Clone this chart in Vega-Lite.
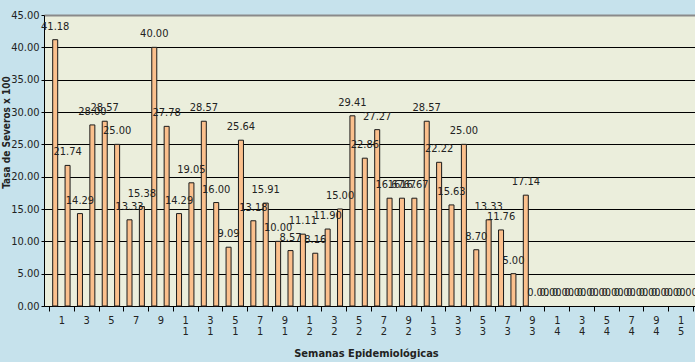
{
  "$schema": "https://vega.github.io/schema/vega-lite/v6.json",
  "width": 654,
  "height": 291,
  "autosize": {"type": "none"},
  "padding": {"left": 44, "top": 15, "right": 0, "bottom": 56},
  "background": "#C6E2EC",
  "config": {
    "view": {"fill": "#EBEEDC", "stroke": null},
    "font": "DejaVu Sans Condensed, Liberation Sans Narrow, Liberation Sans, sans-serif"
  },
  "data": {
    "values": [
      {"semana": 1, "tasa": 41.18}, {"semana": 2, "tasa": 21.74}, {"semana": 3, "tasa": 14.29},
      {"semana": 4, "tasa": 28.00}, {"semana": 5, "tasa": 28.57}, {"semana": 6, "tasa": 25.00},
      {"semana": 7, "tasa": 13.33}, {"semana": 8, "tasa": 15.38}, {"semana": 9, "tasa": 40.00},
      {"semana": 10, "tasa": 27.78}, {"semana": 11, "tasa": 14.29}, {"semana": 12, "tasa": 19.05},
      {"semana": 13, "tasa": 28.57}, {"semana": 14, "tasa": 16.00}, {"semana": 15, "tasa": 9.09},
      {"semana": 16, "tasa": 25.64}, {"semana": 17, "tasa": 13.18}, {"semana": 18, "tasa": 15.91},
      {"semana": 19, "tasa": 10.00}, {"semana": 20, "tasa": 8.57}, {"semana": 21, "tasa": 11.11},
      {"semana": 22, "tasa": 8.16}, {"semana": 23, "tasa": 11.90}, {"semana": 24, "tasa": 15.00},
      {"semana": 25, "tasa": 29.41}, {"semana": 26, "tasa": 22.86}, {"semana": 27, "tasa": 27.27},
      {"semana": 28, "tasa": 16.67}, {"semana": 29, "tasa": 16.67}, {"semana": 30, "tasa": 16.67},
      {"semana": 31, "tasa": 28.57}, {"semana": 32, "tasa": 22.22}, {"semana": 33, "tasa": 15.63},
      {"semana": 34, "tasa": 25.00}, {"semana": 35, "tasa": 8.70}, {"semana": 36, "tasa": 13.33},
      {"semana": 37, "tasa": 11.76}, {"semana": 38, "tasa": 5.00}, {"semana": 39, "tasa": 17.14},
      {"semana": 40, "tasa": 0}, {"semana": 41, "tasa": 0}, {"semana": 42, "tasa": 0},
      {"semana": 43, "tasa": 0}, {"semana": 44, "tasa": 0}, {"semana": 45, "tasa": 0},
      {"semana": 46, "tasa": 0}, {"semana": 47, "tasa": 0}, {"semana": 48, "tasa": 0},
      {"semana": 49, "tasa": 0}, {"semana": 50, "tasa": 0}, {"semana": 51, "tasa": 0},
      {"semana": 52, "tasa": 0}
    ]
  },
  "encoding": {
    "x": {
      "field": "semana",
      "type": "quantitative",
      "scale": {"domain": [0.5, 52.5], "nice": false, "zero": false},
      "axis": {
        "title": "Semanas Epidemiológicas",
        "titleFontSize": 11,
        "titleFontWeight": "bold",
        "titleColor": "#222222",
        "titleX": 322,
        "titleY": 41,
        "titleBaseline": "top",
        "values": [0.5, 1.5, 2.5, 3.5, 4.5, 5.5, 6.5, 7.5, 8.5, 9.5, 10.5, 11.5, 12.5, 13.5, 14.5, 15.5, 16.5, 17.5, 18.5, 19.5, 20.5, 21.5, 22.5, 23.5, 24.5, 25.5, 26.5, 27.5, 28.5, 29.5, 30.5, 31.5, 32.5, 33.5, 34.5, 35.5, 36.5, 37.5, 38.5, 39.5, 40.5, 41.5, 42.5, 43.5, 44.5, 45.5, 46.5, 47.5, 48.5, 49.5, 50.5, 51.5, 52.5],
        "labelExpr": "(datum.value + 0.5) % 2 == 0 ? ((datum.value - 0.5) < 10 ? '' + (datum.value - 0.5) : ['' + ((datum.value - 0.5) % 10), '' + floor((datum.value - 0.5) / 10)]) : ''",
        "labelOverlap": false,
        "labelBound": false,
        "labelFlush": false,
        "labelFontSize": 11,
        "labelColor": "#222222",
        "labelLineHeight": 11,
        "labelPadding": 3,
        "tickSize": 5,
        "tickColor": "#000000",
        "tickOpacity": {"condition": {"test": "(datum.value + 0.5) % 2 == 1", "value": 1}, "value": 0},
        "domainColor": "#000000",
        "grid": false
      }
    },
    "y": {
      "field": "tasa",
      "type": "quantitative",
      "scale": {"domain": [0, 45], "nice": false},
      "axis": {
        "title": "Tasa de Severos x 100",
        "titleFontSize": 10,
        "titleFontWeight": "bold",
        "titleColor": "#222222",
        "titleX": -33,
        "titleY": 117,
        "values": [0, 5, 10, 15, 20, 25, 30, 35, 40, 45],
        "format": ".2f",
        "labelFontSize": 11,
        "labelColor": "#222222",
        "labelPadding": 2,
        "tickSize": 3,
        "tickColor": "#000000",
        "domainColor": "#000000",
        "grid": true,
        "gridColor": {"condition": {"test": "datum.value == 45", "value": "#8a8a8a"}, "value": "#000000"},
        "gridWidth": {"condition": {"test": "datum.value == 45", "value": 2}, "value": 1.2}
      }
    }
  },
  "layer": [
    {
      "transform": [{"filter": "datum.tasa > 0"}],
      "mark": {"type": "bar", "width": 5, "fill": "#FBC08D", "stroke": "#1a1a1a", "strokeWidth": 1}
    },
    {
      "mark": {"type": "text", "baseline": "alphabetic", "dy": -10, "fontSize": 11, "color": "#222222"},
      "encoding": {"text": {"field": "tasa", "type": "quantitative", "format": ".2f"}}
    }
  ]
}
